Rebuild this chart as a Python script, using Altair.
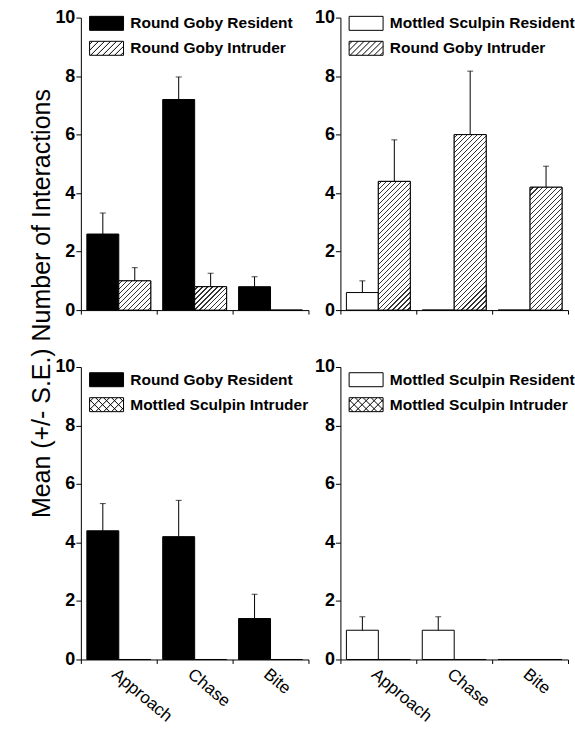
import altair as alt
import pandas as pd

# ---------------- data ----------------
behaviors = ["Approach", "Chase", "Bite"]
roles = ["Resident", "Intruder"]
y_ticks = [0, 2, 4, 6, 8, 10]
y_title = "Mean (+/- S.E.) Number of Interactions"

tl_res_name = "Round Goby Resident"
tl_res_mean = [2.6, 7.2, 0.8]
tl_res_se = [0.72, 0.77, 0.34]
tl_int_name = "Round Goby Intruder"
tl_int_mean = [1.0, 0.8, 0.0]
tl_int_se = [0.45, 0.46, 0.0]

tr_res_name = "Mottled Sculpin Resident"
tr_res_mean = [0.6, 0.0, 0.0]
tr_res_se = [0.4, 0.0, 0.0]
tr_int_name = "Round Goby Intruder"
tr_int_mean = [4.4, 6.0, 4.2]
tr_int_se = [1.42, 2.17, 0.72]

bl_res_name = "Round Goby Resident"
bl_res_mean = [4.4, 4.2, 1.4]
bl_res_se = [0.93, 1.24, 0.83]
bl_int_name = "Mottled Sculpin Intruder"
bl_int_mean = [0.0, 0.0, 0.0]
bl_int_se = [0.0, 0.0, 0.0]

br_res_name = "Mottled Sculpin Resident"
br_res_mean = [1.0, 1.0, 0.0]
br_res_se = [0.46, 0.46, 0.0]
br_int_name = "Mottled Sculpin Intruder"
br_int_mean = [0.0, 0.0, 0.0]
br_int_se = [0.0, 0.0, 0.0]

# ---------------- styles ----------------
FONT = "Liberation Sans"
PANEL_W = 228
PANEL_H = 293
Y_MAX = 10
OFFSET_PAD = 0.1875
BAR_W = PANEL_W / len(behaviors) / (2 + 2 * OFFSET_PAD)
PX_PER_UNIT = PANEL_H / Y_MAX

series_fill = {
    "Round Goby Resident": "black",
    "Mottled Sculpin Resident": "white",
    "Round Goby Intruder": "white",
    "Mottled Sculpin Intruder": "white",
}
series_hatch = {
    "Round Goby Resident": None,
    "Mottled Sculpin Resident": None,
    "Round Goby Intruder": "/",
    "Mottled Sculpin Intruder": "x",
}

SYM_SIZE = 196  # symbol scale factor = sqrt(size)/2 = 7 px


def swatch_path(kind, hw=17 / 7, hh=1.0):
    parts = [f"M{-hw:.3f},{-hh:.3f}H{hw:.3f}V{hh:.3f}H{-hw:.3f}Z"]

    def lines(sign, step):
        c = -(hw + hh) + step / 2
        while c < hw + hh:
            xa = max(-hw, c - hh)
            xb = min(hw, c + hh)
            if xb - xa > 1e-6:
                if sign > 0:
                    ya, yb = c - xa, c - xb
                else:
                    ya, yb = xa - c, xb - c
                parts.append(f"M{xa:.3f},{ya:.3f}L{xb:.3f},{yb:.3f}")
            c += step

    if kind == "/":
        lines(1, 6 / 7)
    elif kind == "x":
        lines(1, 8 / 7)
        lines(-1, 8 / 7)
    return "".join(parts)


def hatch_gradient(value, period=5.0, line=1.2, dark="#333333"):
    w = BAR_W
    h = value * PX_PER_UNIT
    r = h / w
    dx = (1 + r) / (1 + r * r)
    dy = r * (1 + r) / (1 + r * r)
    L = w + h
    stops = [{"offset": 0, "color": "white"}]
    s = period / 2
    while s < L:
        a = round(s / L, 5)
        b = round(min((s + line) / L, 1.0), 5)
        stops += [
            {"offset": a, "color": "white"},
            {"offset": a, "color": dark},
            {"offset": b, "color": dark},
            {"offset": b, "color": "white"},
        ]
        s += period
    stops.append({"offset": 1, "color": "white"})
    return {"gradient": "linear", "x1": 0, "y1": 0,
            "x2": round(dx, 5), "y2": round(dy, 5), "stops": stops}


def panel(res_name, res_mean, res_se, int_name, int_mean, int_se,
          show_labels, with_title, legend_y):
    rows = []
    for role, name, means, ses in [("Resident", res_name, res_mean, res_se),
                                   ("Intruder", int_name, int_mean, int_se)]:
        for b, m, s in zip(behaviors, means, ses):
            rows.append({"behavior": b, "role": role, "series": name,
                         "mean": m, "upper": m + s, "se": s})
    df = pd.DataFrame(rows)
    base = alt.Chart(df)

    x_axis = alt.Axis(title=None, labels=show_labels, labelAngle=40,
                      labelAlign="left", labelBaseline="top",
                      labelFontSize=17, labelFont=FONT, labelPadding=2,
                      tickBand="extent", tickSize=4, domainColor="black",
                      tickColor="black", labelColor="black", grid=False)
    y_kw = dict(values=y_ticks, labelFontSize=18, labelFontWeight="bold",
                labelFont=FONT, labelPadding=1, tickSize=5,
                domainColor="black", tickColor="black", labelColor="black",
                grid=False)
    if with_title:
        y_axis = alt.Axis(title=y_title, titleX=-39, titleY=286,
                          titleAngle=270, titleAlign="center",
                          titleBaseline="middle", titleFontSize=25,
                          titleFontWeight="normal", titleFont=FONT,
                          titleColor="black", **y_kw)
    else:
        y_axis = alt.Axis(title=None, **y_kw)

    x = alt.X("behavior:N", sort=behaviors, axis=x_axis,
              scale=alt.Scale(paddingInner=0, paddingOuter=0))
    xo = alt.XOffset("role:N", sort=roles,
                     scale=alt.Scale(paddingInner=0, paddingOuter=OFFSET_PAD))
    yscale = alt.Scale(domain=[0, Y_MAX], nice=False)
    y = alt.Y("mean:Q", scale=yscale, axis=y_axis)

    domain = [res_name, int_name]
    leg = alt.Legend(title=None, orient="none", legendX=18, legendY=legend_y,
                     symbolSize=SYM_SIZE, symbolStrokeColor="black",
                     symbolStrokeWidth=1, labelFontSize=15.5,
                     labelFontWeight="bold", labelFont=FONT,
                     labelColor="black", labelOffset=16, rowPadding=6,
                     labelLimit=400, padding=0)
    color_scale = alt.Scale(domain=domain,
                            range=[series_fill[d] for d in domain])
    shape_scale = alt.Scale(domain=domain,
                            range=[swatch_path(series_hatch[d]) for d in domain])

    bars = base.mark_bar(stroke="black", strokeWidth=1).encode(
        x=x, xOffset=xo, y=y,
        color=alt.Color("series:N", legend=leg, scale=color_scale),
    )
    layers = [bars]

    if series_hatch[int_name] == "/":
        conds = []
        for b, m in zip(behaviors, int_mean):
            if m > 0:
                conds.append({"test": f"datum.behavior === '{b}'",
                              "value": hatch_gradient(m)})
        if conds:
            hatched = base.transform_filter(
                "datum.role === 'Intruder' && datum.mean > 0"
            ).mark_bar(stroke="black", strokeWidth=1).encode(
                x=x, xOffset=xo, y=y,
                fill=alt.FillValue(value="white", condition=conds),
            )
            layers.append(hatched)

    err = base.transform_filter("datum.se > 0")
    rule = err.mark_rule(color="black", strokeWidth=1).encode(
        x=x, xOffset=xo, y=y, y2="upper:Q",
    )
    cap = err.mark_tick(color="black", thickness=1, size=6).encode(
        x=x, xOffset=xo,
        y=alt.Y("upper:Q", scale=yscale, axis=y_axis),
    )
    layers += [rule, cap]

    legend_layer = base.transform_filter("false").mark_point(
        filled=True, size=SYM_SIZE, stroke="black", strokeWidth=1, opacity=1
    ).encode(
        color=alt.Color("series:N", legend=leg, scale=color_scale),
        shape=alt.Shape("series:N", legend=leg, scale=shape_scale),
    )
    layers.append(legend_layer)

    return alt.layer(*layers).properties(width=PANEL_W, height=PANEL_H)


tl = panel(tl_res_name, tl_res_mean, tl_res_se, tl_int_name, tl_int_mean,
           tl_int_se, False, True, -2)
tr = panel(tr_res_name, tr_res_mean, tr_res_se, tr_int_name, tr_int_mean,
           tr_int_se, False, False, -2)
bl = panel(bl_res_name, bl_res_mean, bl_res_se, bl_int_name, bl_int_mean,
           bl_int_se, True, False, 5)
br = panel(br_res_name, br_res_mean, br_res_se, br_int_name, br_int_mean,
           br_int_se, True, False, 5)

chart = alt.concat(
    tl, tr, bl, br, columns=2, spacing={"row": 57, "column": 32},
    bounds="flush",
).resolve_scale(
    x="independent", y="independent", color="independent",
    shape="independent",
).resolve_legend(
    color="independent", shape="independent",
).properties(
    padding={"left": 29, "top": 8, "right": 0, "bottom": 0},
    background="white",
).configure(font=FONT).configure_view(stroke=None)

chart.save("out.html", embed_options={"renderer": "svg", "actions": False})
